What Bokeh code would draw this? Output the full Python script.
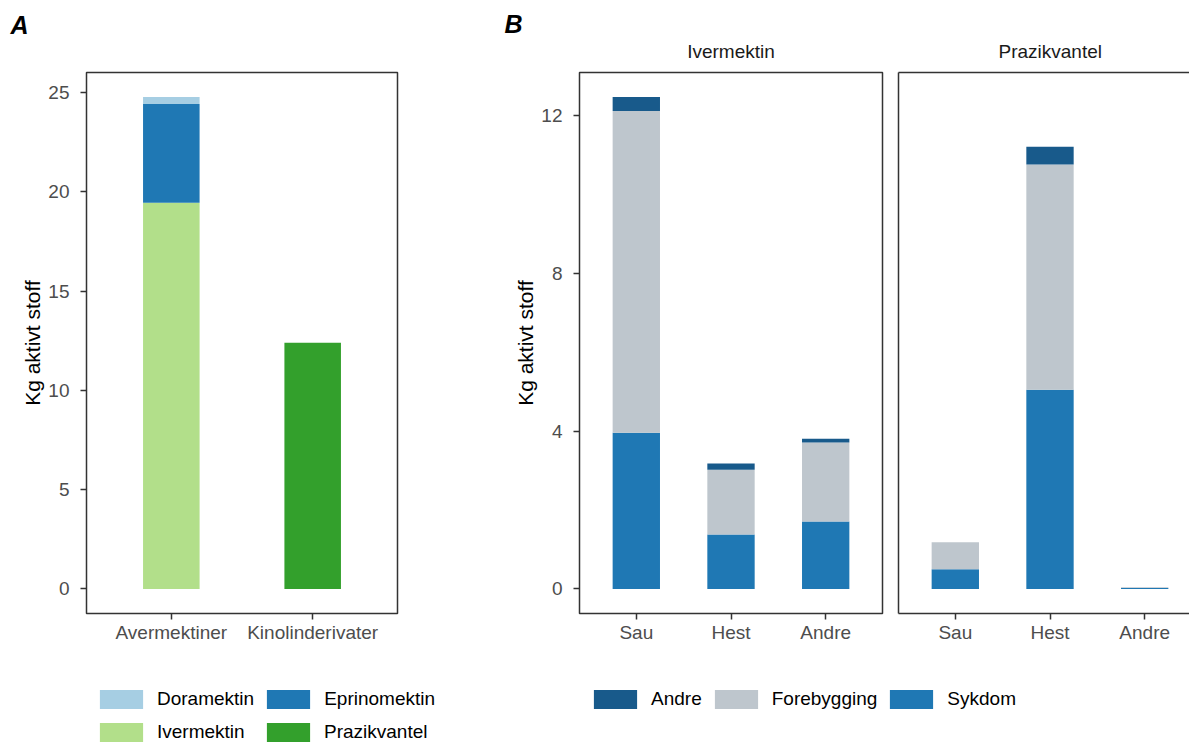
from bokeh.plotting import figure
from bokeh.models import (ColumnDataSource, Range1d, FixedTicker, Legend,
                          LegendItem, LinearAxis, Title)
from bokeh.layouts import row, column
from bokeh.embed import file_html
from bokeh.resources import INLINE

FONT = "Liberation Sans"
LINE = "#333333"
TICK_TEXT = "#4D4D4D"

# ---------------- data: panel A ----------------
a_categories = ["Avermektiner", "Kinolinderivater"]
a_stack = ["Ivermektin", "Eprinomektin", "Doramektin", "Prazikvantel"]  # bottom -> top
ivermektin_kg = [19.45, 0.0]
eprinomektin_kg = [4.97, 0.0]
doramektin_kg = [0.35, 0.0]
prazikvantel_kg = [0.0, 12.40]
a_colors = ["#B2DF8A", "#1F78B4", "#A6CEE3", "#33A02C"]
a_legend_rows = [["Doramektin", "Eprinomektin"], ["Ivermektin", "Prazikvantel"]]
a_yticks = [0, 5, 10, 15, 20, 25]

# ---------------- data: panel B ----------------
b_facets = ["Ivermektin", "Prazikvantel"]
b_species = ["Sau", "Hest", "Andre"]
b_stack = ["Sykdom", "Forebygging", "Andre"]  # bottom -> top
b_colors = ["#1F78B4", "#BEC6CD", "#185A8B"]
b_legend = ["Andre", "Forebygging", "Sykdom"]
iver_sykdom = [3.96, 1.38, 1.71]
iver_forebygging = [8.16, 1.64, 2.00]
iver_andre = [0.35, 0.16, 0.10]
praz_sykdom = [0.50, 5.05, 0.02]
praz_forebygging = [0.68, 5.71, 0.02]
praz_andre = [0.0, 0.45, 0.0]
b_yticks = [0, 4, 8, 12]

y_title = "Kg aktivt stoff"
panel_letters = ["A", "B"]

# ---------------- sources ----------------
src_a = ColumnDataSource(dict(
    x=[i + 1 for i in range(len(a_categories))],
    Ivermektin=ivermektin_kg, Eprinomektin=eprinomektin_kg,
    Doramektin=doramektin_kg, Prazikvantel=prazikvantel_kg))
src_b1 = ColumnDataSource(dict(
    x=[i + 1 for i in range(len(b_species))],
    Sykdom=iver_sykdom, Forebygging=iver_forebygging, Andre=iver_andre))
src_b2 = ColumnDataSource(dict(
    x=[i + 1 for i in range(len(b_species))],
    Sykdom=praz_sykdom, Forebygging=praz_forebygging, Andre=praz_andre))

a_tot = [sum(v) for v in zip(ivermektin_kg, eprinomektin_kg, doramektin_kg, prazikvantel_kg)]
b_tot = [sum(v) for v in zip(iver_sykdom, iver_forebygging, iver_andre)] + \
        [sum(v) for v in zip(praz_sykdom, praz_forebygging, praz_andre)]
a_max = max(a_tot)
b_max = max(b_tot)

# ---------------- geometry ----------------
TOP_H = 660
FR_T = 72
FR_H = 541
FR_B = TOP_H - FR_T - FR_H
LEG_H = 82


def style_axes(p):
    p.xgrid.grid_line_color = None
    p.ygrid.grid_line_color = None
    p.background_fill_color = "white"
    p.border_fill_color = "white"
    for ax in (p.xaxis[0], p.yaxis[0]):
        ax.axis_line_color = None
        ax.major_tick_line_color = LINE
        ax.major_tick_line_width = 1.5
        ax.major_tick_out = 6
        ax.major_tick_in = 0
        ax.minor_tick_line_color = None
        ax.major_label_text_font = FONT
        ax.major_label_text_font_size = "19px"
        ax.major_label_text_color = TICK_TEXT
    p.xaxis.major_label_standoff = 2
    p.yaxis.major_label_standoff = 11
    p.yaxis.axis_label_text_font = FONT
    p.yaxis.axis_label_text_font_size = "21px"
    p.yaxis.axis_label_text_font_style = "normal"
    p.yaxis.axis_label_text_color = "black"
    p.yaxis.axis_label_standoff = 1


def make_top(width, left, right, x_end, y_max, yticks, cats):
    p = figure(width=width, height=TOP_H, x_range=Range1d(0.4, x_end),
               y_range=Range1d(-0.05 * y_max, 1.05 * y_max), title=None,
               toolbar_location=None, output_backend="svg",
               min_border_left=left, min_border_right=right,
               min_border_top=FR_T, min_border_bottom=FR_B)
    p.outline_line_color = LINE
    p.outline_line_width = 1.5
    style_axes(p)
    p.xaxis.ticker = FixedTicker(ticks=[i + 1 for i in range(len(cats))])
    p.xaxis.major_label_overrides = {i + 1: c for i, c in enumerate(cats)}
    p.yaxis.ticker = FixedTicker(ticks=yticks)
    return p


def spacer_top_axis(color, gap):
    # top axis whose only visible part is its line (the panel's top border);
    # its hidden tick keeps a gap between the frame and the titles above it
    return LinearAxis(ticker=FixedTicker(ticks=[1]), axis_line_color=color,
                      axis_line_width=1.5, major_tick_line_color=None,
                      minor_tick_line_color=None, major_label_standoff=0,
                      major_label_text_color=None,
                      major_label_text_font_size="1px",
                      major_tick_out=gap, major_tick_in=0)


def strip_title(text, align, offset):
    return Title(text=text, align=align, offset=offset, standoff=0,
                 text_font=FONT, text_font_size="19px",
                 text_font_style="normal", text_color="#1A1A1A")


def letter_title(text, offset, standoff):
    return Title(text=text, align="left", offset=offset, standoff=standoff,
                 text_font=FONT, text_font_size="25px",
                 text_font_style="bold italic", text_color="black")


# ---------------- panel A ----------------
pa = make_top(480, 86, 83, 2.6, a_max, a_yticks, a_categories)
pa.yaxis.axis_label = y_title
pa.vbar_stack(a_stack, x="x", width=0.4, source=src_a,
              fill_color=a_colors, line_color=None)
pa.add_layout(spacer_top_axis(None, 34), "above")
pa.add_layout(letter_title(panel_letters[0], -76, 0), "above")

# ---------------- panel B, facet 1 ----------------
B_FRAME = 303
b_scale = 3.2 / B_FRAME
pb1 = make_top(410, 99, 8, 3.6, b_max, b_yticks, b_species)
pb1.yaxis.axis_label = y_title
pb1.vbar_stack(b_stack, x="x", width=0.5, source=src_b1,
               fill_color=b_colors, line_color=None)
pb1.add_layout(spacer_top_axis(None, 11), "above")
pb1.add_layout(strip_title(b_facets[0], "center", 0), "above")
pb1.add_layout(letter_title(panel_letters[1], -75, 1), "above")

# ---------------- panel B, facet 2 (cropped at the window edge) ----------------
B2_FRAME = 291
pb2 = make_top(299, 8, 0, 0.4 + B2_FRAME * b_scale, b_max, b_yticks, b_species)
pb2.outline_line_color = None
pb2.yaxis.ticker = FixedTicker(ticks=[])
pb2.yaxis.major_tick_out = 0
pb2.yaxis.major_label_standoff = 0
pb2.yaxis.axis_line_color = LINE
pb2.yaxis.axis_line_width = 1.5
pb2.xaxis.axis_line_color = LINE
pb2.xaxis.axis_line_width = 1.5
pb2.add_layout(spacer_top_axis(LINE, 11), "above")
pb2.vbar_stack(b_stack, x="x", width=0.5, source=src_b2,
               fill_color=b_colors, line_color=None)
pb2.add_layout(strip_title(b_facets[1], "left", 100), "above")

# ---------------- legends ----------------


def legend_fig(width, stack, colors, src, bar_w):
    # same bars, kept out of view: only their legend glyphs are shown
    f = figure(width=width, height=LEG_H, x_range=Range1d(100, 103),
               y_range=Range1d(100, 101), x_axis_type=None, y_axis_type=None,
               title=None, toolbar_location=None, output_backend="svg",
               min_border=0)
    f.outline_line_color = None
    f.xgrid.grid_line_color = None
    f.ygrid.grid_line_color = None
    rs = f.vbar_stack(stack, x="x", width=bar_w, source=src,
                      fill_color=colors, line_color=None)
    return f, dict(zip(stack, rs))


def make_legend(names, rmap, loc, label_width=20):
    # area legend glyphs are drawn inset by 10% on each side
    return Legend(items=[LegendItem(label=n, renderers=[rmap[n]]) for n in names],
                  location=loc, orientation="horizontal",
                  glyph_width=54, glyph_height=24, label_standoff=9, spacing=7,
                  padding=0, margin=0, border_line_color=None,
                  background_fill_alpha=0, label_width=label_width,
                  label_height=19,
                  label_text_font=FONT, label_text_font_size="19px",
                  label_text_color="black")


la, rmap_a = legend_fig(480, a_stack, a_colors, src_a, 0.4)
la.add_layout(make_legend(a_legend_rows[0], rmap_a, (94, 31), 97))
la.add_layout(make_legend(a_legend_rows[1], rmap_a, (94, -2), 97))

lb, rmap_b = legend_fig(709, b_stack, b_colors, src_b1, 0.5)
lb.add_layout(make_legend(b_legend, rmap_b, (108, 31)))

layout = column(row(pa, pb1, pb2), row(la, lb))

open("out.html", "w").write(file_html(layout, INLINE))
